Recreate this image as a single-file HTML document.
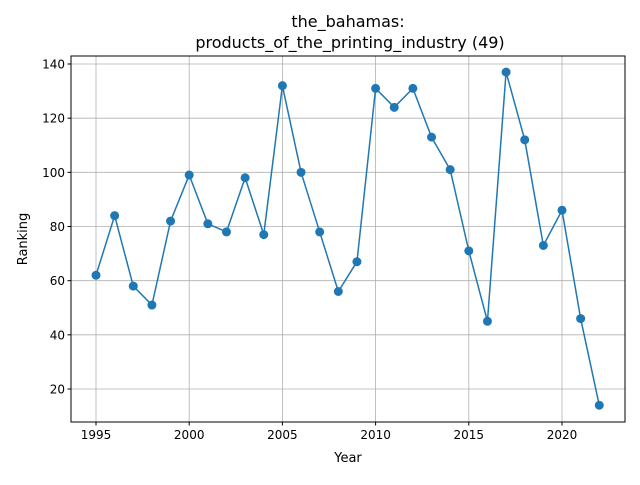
<!DOCTYPE html>
<html><head><meta charset="utf-8"><style>
body{margin:0;background:#fff;font-family:"Liberation Sans","DejaVu Sans",sans-serif;}
svg text{font-family:"DejaVu Sans","Liberation Sans",sans-serif;fill:#000;}
</style></head><body>
<svg id="chart" width="640" height="480" xmlns="http://www.w3.org/2000/svg">
<rect width="640" height="480" fill="#fff"/>
<text x="348" y="27" font-size="16" text-anchor="middle">the_bahamas:</text>
<text x="350" y="48" font-size="16" text-anchor="middle">products_of_the_printing_industry (49)</text>
<g id="grid"></g><g id="ticks"></g><g id="series"></g>
<rect x="71" y="56" width="554" height="366" fill="none" stroke="#000" stroke-width="1"/>
<text x="348" y="462" font-size="13" text-anchor="middle">Year</text>
<text transform="translate(27,239) rotate(-90)" font-size="13" text-anchor="middle">Ranking</text>
</svg>
<script>
const years=[1995,1996,1997,1998,1999,2000,2001,2002,2003,2004,2005,2006,2007,2008,2009,2010,2011,2012,2013,2014,2015,2016,2017,2018,2019,2020,2021,2022];
const rankings=[62,84,58,51,82,99,81,78,98,77,132,100,78,56,67,131,124,131,113,101,71,45,137,112,73,86,46,14];
const xTicks=[1995,2000,2005,2010,2015,2020];
const yTicks=[20,40,60,80,100,120,140];
const NS="http://www.w3.org/2000/svg";
const L=71,R=625,T=56,B=422;
function sx(v){return 96+(v-1995)*(562-96)/25;}
function sy(v){return 389-(v-20)*(389-64)/120;}
function mk(t,a,p){const e=document.createElementNS(NS,t);for(const k in a)e.setAttribute(k,a[k]);p.appendChild(e);return e;}
const grid=document.getElementById('grid'),ticks=document.getElementById('ticks'),ser=document.getElementById('series');
xTicks.forEach(v=>{const x=sx(v);
const g=mk('line',{x1:x,x2:x,y1:T,y2:B,stroke:'#b0b0b0','stroke-width':0.8},grid);


mk('line',{x1:x,x2:x,y1:B,y2:B+3.5,stroke:'#000'},ticks);
const t=mk('text',{x:x,y:B+17,'font-size':12,'text-anchor':'middle'},ticks);t.textContent=v;

});
yTicks.forEach(v=>{const y=sy(v);
const g=mk('line',{x1:L,x2:R,y1:y,y2:y,stroke:'#b0b0b0','stroke-width':0.8},grid);


mk('line',{x1:L-3.5,x2:L,y1:y,y2:y,stroke:'#000'},ticks);
const t=mk('text',{x:L-6,y:y+4.5,'font-size':12,'text-anchor':'end'},ticks);t.textContent=v;

});
const pts=years.map((y,i)=>sx(y)+','+sy(rankings[i])).join(' ');
const pl=mk('polyline',{points:pts,fill:'none',stroke:'#1f77b4','stroke-width':1.5},ser);


years.forEach((y,i)=>{const c=mk('circle',{cx:sx(y),cy:sy(rankings[i]),r:4.5,fill:'#1f77b4'},ser);

});
</script>
</body></html>
